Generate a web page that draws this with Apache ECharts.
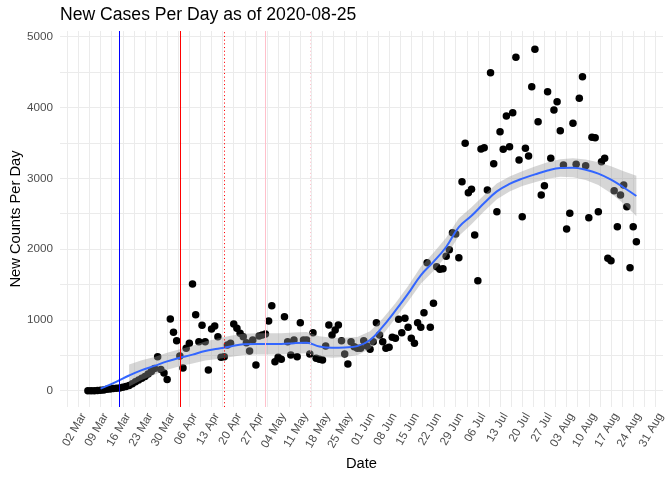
<!DOCTYPE html>
<html><head><meta charset="utf-8">
<script src="https://cdn.jsdelivr.net/npm/echarts@6/dist/echarts.min.js"></script>
<style>html,body{margin:0;padding:0;background:#fff}#c{width:672px;height:480px}</style>
</head><body><div id="c"></div><script>
// ---- data ----
const originDate = '2020-03-02';      // day 0 of the x scale (first tick)
const firstCaseDate = '2020-03-05';   // date of cases[0]
const cases = [
  0,0,1,2,5,10,20,25,30,35,40,50,60,75,100,125,150,175,200,235,270,315,480,300,250,160,
  1013,825,706,490,320,600,670,1507,1073,692,923,692,292,871,914,763,472,480,645,669,
  942,881,811,763,678,561,716,363,773,787,801,984,1200,410,472,443,1045,692,504,716,
  480,960,716,716,518,820,457,443,434,631,928,787,857,928,706,518,377,692,620,599,599,
  706,631,585,692,960,787,692,599,613,754,740,1008,820,1022,895,740,669,960,895,1102,
  1808,895,1234,1751,1714,1723,1898,1992,2232,2213,1879,2952,3494,2797,2844,2199,1554,
  3414,3432,2835,4492,3206,2528,3658,3409,3880,3446,3927,4709,3258,2458,3424,3315,4294,
  4824,3800,2764,2895,4223,3282,3965,4082,3672,3188,2284,2506,3777,3198,4130,4435,3178,
  2443,3579,3574,2528,3234,3282,1870,1836,2825,2317,2764,2905,2599,1737,2317,2105
];
const smoothDay = [7,10,13,16,20,24,28,32,36,40,44,48,52,56,60,64,68,72,76,80,84,88,92,96,100,104,108,112,116,120,124,128,132,136,140,144,148,152,156,160,164,168,172,176];
const smoothVal = [30,85,150,215,290,350,415,466,510,561,592,625,655,660,660,660,672,678,625,607,612,630,716,904,1130,1370,1630,1820,2030,2310,2470,2650,2815,2920,2995,3055,3110,3145,3148,3120,3065,2980,2870,2750];
const bandDay   = [16,20,24,28,32,36,40,44,48,52,56,60,64,68,72,76,80,84,88,92,96,100,104,108,112,116,120,124,128,132,136,140,144,148,152,156,160,164,168,172,176];
const bandLower = [60,150,225,295,346,385,426,447,475,505,510,510,510,522,528,480,467,477,500,591,789,1024,1260,1510,1690,1900,2185,2350,2535,2705,2815,2890,2945,2995,3020,3013,2975,2905,2790,2640,2465];
const bandUpper = [370,430,475,535,586,635,696,737,775,805,810,810,810,822,828,770,747,747,760,841,1019,1236,1480,1750,1950,2160,2435,2590,2765,2925,3025,3100,3165,3225,3270,3283,3265,3225,3170,3100,3035];
const eventDates = ['2020-03-15','2020-04-03','2020-04-17','2020-04-30','2020-05-14'];
const xTickLabels = ['02 Mar','09 Mar','16 Mar','23 Mar','30 Mar','06 Apr','13 Apr','20 Apr','27 Apr','04 May','11 May','18 May','25 May','01 Jun','08 Jun','15 Jun','22 Jun','29 Jun','06 Jul','13 Jul','20 Jul','27 Jul','03 Aug','10 Aug','17 Aug','24 Aug','31 Aug'];
const xTickStepDays = 7;
const yTicks = [0,1000,2000,3000,4000,5000];

// ---- derived ----
const DAY = 864e5;
const t0 = Date.parse(originDate);
const dayOf = s => (Date.parse(s) - t0) / DAY;
const firstDay = dayOf(firstCaseDate);
const points = cases.map((v, i) => [firstDay + i, v]);
const xLabelValues = xTickLabels.map((_, i) => i * xTickStepDays);
const xGridValues = [];
for (let v = -xTickStepDays / 2; v <= xLabelValues[xLabelValues.length - 1]; v += xTickStepDays / 2) xGridValues.push(v);
const yGridValues = [];
for (let v = yTicks[0]; v <= yTicks[yTicks.length - 1]; v += (yTicks[1] - yTicks[0]) / 2) yGridValues.push(v);

const eventStyles = [
  {color:'#0000FF', type:'solid'},
  {color:'#FF0000', type:'solid'},
  {color:'#FF0000', type:[1.1, 2.6]},
  {color:'#FFC0CB', type:'solid'},
  {color:'#FFC0CB', type:[1.1, 2.6]}
];
const FONT = 'Liberation Sans, Arial, sans-serif';

const chart = echarts.init(document.getElementById('c'), null, {renderer:'canvas'});
chart.setOption({
  animation: false,
  backgroundColor: '#ffffff',
  title: {
    text: 'New Cases Per Day as of 2020-08-25',
    left: 60, top: 6, padding: 0,
    textStyle: {fontSize: 17.6, fontWeight: 'normal', color: '#000', fontFamily: FONT}
  },
  grid: {left: 60, right: 9, top: 31, bottom: 73, containLabel: false, outerBoundsMode: 'none'},
  xAxis: {
    type: 'value', min: -5.8, max: 184.4,
    axisLine: {show: false},
    axisTick: {show: false, customValues: xGridValues},
    splitLine: {show: true, lineStyle: {color: '#EBEBEB', width: 1}},
    minorSplitLine: {show: false},
    axisLabel: {
      customValues: xLabelValues,
      formatter: v => xTickLabels[Math.round(v / xTickStepDays)],
      rotate: 60, align: 'right', verticalAlign: 'top', margin: 4,
      color: '#4D4D4D', fontSize: 11.7, fontFamily: FONT
    },
    name: 'Date', nameLocation: 'middle', nameGap: 49, nameMoveOverlap: false,
    nameTextStyle: {color: '#000', fontSize: 14.7, fontFamily: FONT}
  },
  yAxis: {
    type: 'value', min: -230, max: 5080,
    axisLine: {show: false},
    axisTick: {show: false, customValues: yGridValues},
    splitLine: {show: true, lineStyle: {color: '#EBEBEB', width: 1}},
    axisLabel: {customValues: yTicks, formatter: v => String(v), margin: 7, color: '#4D4D4D', fontSize: 11.7, fontFamily: FONT},
    name: 'New Counts Per Day', nameLocation: 'middle', nameGap: 37, nameRotate: 90, nameMoveOverlap: false,
    nameTextStyle: {color: '#000', fontSize: 14.7, fontFamily: FONT}
  },
  series: [
    {
      type: 'scatter', data: points, symbol: 'circle', symbolSize: 7.5,
      itemStyle: {color: '#000', opacity: 1}, z: 2, silent: true
    },
    {
      type: 'custom', data: [[bandDay[0], bandLower[0]]], z: 3, silent: true, clip: true,
      encode: {x: 0, y: 1},
      renderItem: (params, api) => {
        const pts = [];
        for (let i = 0; i < bandDay.length; i++) pts.push(api.coord([bandDay[i], bandUpper[i]]));
        for (let i = bandDay.length - 1; i >= 0; i--) pts.push(api.coord([bandDay[i], bandLower[i]]));
        return {type: 'polygon', shape: {points: pts}, style: {fill: 'rgba(153,153,153,0.4)'}};
      }
    },
    {
      type: 'line', data: smoothDay.map((d, i) => [d, smoothVal[i]]),
      smooth: 0.4, showSymbol: false, silent: true, z: 4,
      lineStyle: {color: '#3366FF', width: 2},
      markLine: {
        silent: true, symbol: ['none', 'none'], label: {show: false}, animation: false,
        data: eventDates.map((d, i) => ({xAxis: dayOf(d), lineStyle: {color: eventStyles[i].color, type: eventStyles[i].type, width: 1}}))
      }
    }
  ]
});
</script></body></html>
